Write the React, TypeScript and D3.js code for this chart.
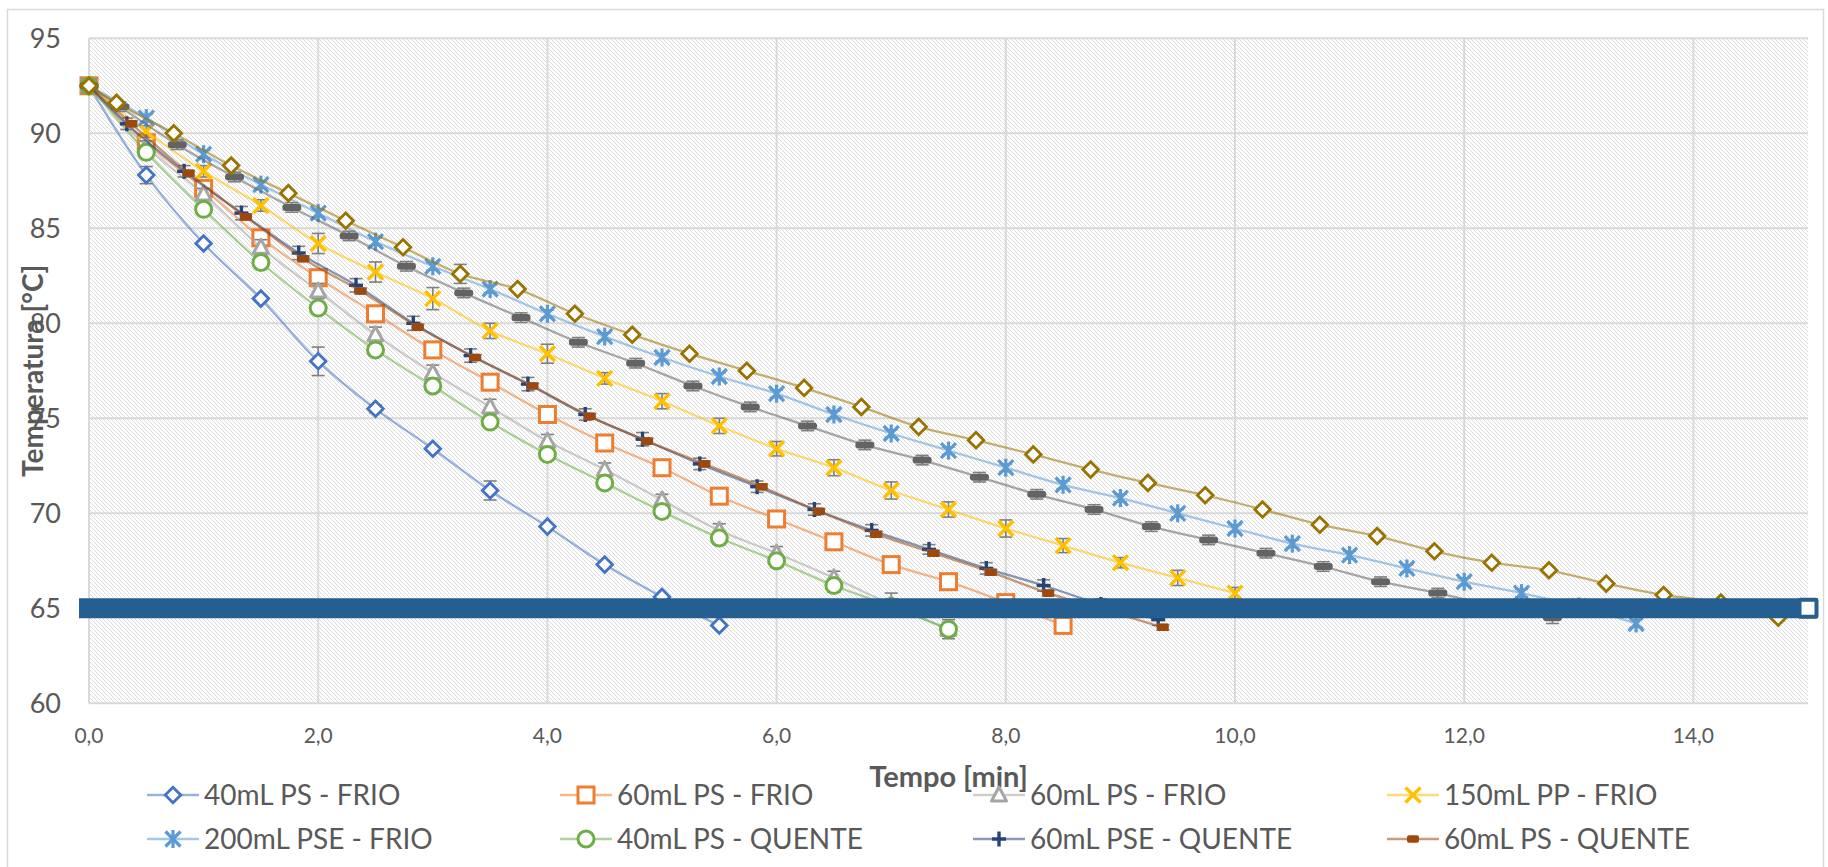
import React from 'react';
import * as d3 from 'd3';

const W = 1828;
const H = 867;

const X_TICKS = [0, 2, 4, 6, 8, 10, 12, 14];
const X_TICK_LABELS = ['0,0', '2,0', '4,0', '6,0', '8,0', '10,0', '12,0', '14,0'];
const Y_TICKS = [60, 65, 70, 75, 80, 85, 90, 95];
const Y_TICK_LABELS = ['60', '65', '70', '75', '80', '85', '90', '95'];

// Series 1: 40mL PS - FRIO
const T_40PS_FRIO = [0, 0.5, 1, 1.5, 2, 2.5, 3, 3.5, 4, 4.5, 5, 5.5];
const V_40PS_FRIO = [92.5, 87.8, 84.2, 81.3, 78.0, 75.5, 73.4, 71.2, 69.3, 67.3, 65.6, 64.1];
const E_40PS_FRIO = [0, 0.45, 0.1, 0.15, 0.75, 0.2, 0.1, 0.5, 0.1, 0.15, 0.1, 0.1];

// Series 2: 60mL PS - FRIO (orange)
const T_60PS_FRIO = [0, 0.5, 1, 1.5, 2, 2.5, 3, 3.5, 4, 4.5, 5, 5.5, 6, 6.5, 7, 7.5, 8, 8.5];
const V_60PS_FRIO = [92.5, 89.5, 87.1, 84.5, 82.4, 80.5, 78.6, 76.9, 75.2, 73.7, 72.4, 70.9, 69.7, 68.5, 67.3, 66.4, 65.3, 64.1];
const E_60PS_FRIO = [0, 0.2, 0.2, 0.15, 0.2, 0.15, 0.15, 0.15, 0.15, 0.15, 0.15, 0.15, 0.15, 0.2, 0.15, 0.15, 0.15, 0.15];

// Series 3: 60mL PS - FRIO (gray)
const T_60PS_FRIO_B = [0, 0.5, 1, 1.5, 2, 2.5, 3, 3.5, 4, 4.5, 5, 5.5, 6, 6.5, 7, 7.5];
const V_60PS_FRIO_B = [92.5, 89.3, 86.8, 84.0, 81.7, 79.4, 77.4, 75.6, 73.8, 72.3, 70.7, 69.1, 67.9, 66.6, 65.2, 63.9];
const E_60PS_FRIO_B = [0, 0.3, 0.3, 0.4, 0.4, 0.4, 0.4, 0.4, 0.35, 0.35, 0.3, 0.35, 0.35, 0.35, 0.6, 0.5];

// Series 4: 150mL PP - FRIO
const T_150PP_FRIO = [0, 0.5, 1, 1.5, 2, 2.5, 3, 3.5, 4, 4.5, 5, 5.5, 6, 6.5, 7, 7.5, 8, 8.5, 9, 9.5, 10];
const V_150PP_FRIO = [92.5, 90.1, 88.0, 86.2, 84.2, 82.7, 81.3, 79.6, 78.4, 77.1, 75.9, 74.6, 73.4, 72.4, 71.2, 70.2, 69.2, 68.3, 67.4, 66.6, 65.8];
const E_150PP_FRIO = [0, 0.3, 0.3, 0.3, 0.53, 0.53, 0.58, 0.4, 0.5, 0.3, 0.4, 0.4, 0.38, 0.42, 0.45, 0.4, 0.45, 0.37, 0.27, 0.4, 0.3];

// Series 5: 200mL PSE - FRIO
const T_200PSE_FRIO = [0, 0.5, 1, 1.5, 2, 2.5, 3, 3.5, 4, 4.5, 5, 5.5, 6, 6.5, 7, 7.5, 8, 8.5, 9, 9.5, 10, 10.5, 11, 11.5, 12, 12.5, 13, 13.5];
const V_200PSE_FRIO = [92.5, 90.8, 88.9, 87.3, 85.8, 84.3, 83.0, 81.8, 80.5, 79.3, 78.2, 77.2, 76.3, 75.2, 74.2, 73.3, 72.4, 71.5, 70.8, 70.0, 69.2, 68.4, 67.8, 67.1, 66.4, 65.8, 65.1, 64.2];
const E_200PSE_FRIO = [0, 0.2, 0.2, 0.2, 0.2, 0.2, 0.2, 0.2, 0.2, 0.2, 0.2, 0.2, 0.2, 0.2, 0.2, 0.2, 0.2, 0.2, 0.2, 0.2, 0.2, 0.2, 0.2, 0.2, 0.2, 0.2, 0.2, 0.2];

// Series 6: 40mL PS - QUENTE
const T_40PS_QUENTE = [0, 0.5, 1, 1.5, 2, 2.5, 3, 3.5, 4, 4.5, 5, 5.5, 6, 6.5, 7, 7.5];
const V_40PS_QUENTE = [92.5, 89.0, 86.0, 83.2, 80.8, 78.6, 76.7, 74.8, 73.1, 71.6, 70.1, 68.7, 67.5, 66.2, 65.1, 63.9];
const E_40PS_QUENTE = [0, 0.3, 0.2, 0.2, 0.2, 0.2, 0.3, 0.3, 0.25, 0.3, 0.35, 0.35, 0.35, 0.35, 0.4, 0.35];

// Series 7: 60mL PSE - QUENTE
const T_60PSE_QUENTE = [0, 0.33, 0.83, 1.33, 1.83, 2.33, 2.83, 3.33, 3.83, 4.33, 4.83, 5.33, 5.83, 6.33, 6.83, 7.33, 7.83, 8.33, 8.83, 9.33];
const V_60PSE_QUENTE = [92.5, 90.5, 88.0, 85.8, 83.7, 82.0, 80.0, 78.3, 76.8, 75.2, 73.9, 72.6, 71.4, 70.2, 69.1, 68.1, 67.1, 66.2, 65.2, 64.4];
const E_60PSE_QUENTE = [0, 0.3, 0.3, 0.35, 0.35, 0.35, 0.37, 0.35, 0.35, 0.3, 0.35, 0.3, 0.3, 0.3, 0.3, 0.25, 0.3, 0.3, 0.3, 0.3];

// Series 8: 60mL PS - QUENTE
const T_60PS_QUENTE = [0, 0.37, 0.87, 1.37, 1.87, 2.37, 2.87, 3.37, 3.87, 4.37, 4.87, 5.37, 5.87, 6.37, 6.87, 7.37, 7.87, 8.37, 8.87, 9.37];
const V_60PS_QUENTE = [92.5, 90.5, 87.9, 85.6, 83.4, 81.7, 79.8, 78.2, 76.7, 75.1, 73.8, 72.6, 71.4, 70.1, 68.9, 67.9, 66.9, 65.8, 64.9, 64.0];
const E_60PS_QUENTE = [0, 0.15, 0.15, 0.15, 0.15, 0.15, 0.15, 0.15, 0.15, 0.15, 0.15, 0.15, 0.15, 0.15, 0.15, 0.15, 0.15, 0.15, 0.15, 0.15];

// Series 9 (dark gray dash, not in legend)
const T_SERIE9 = [0, 0.27, 0.77, 1.27, 1.77, 2.27, 2.77, 3.27, 3.77, 4.27, 4.77, 5.27, 5.77, 6.27, 6.77, 7.27, 7.77, 8.27, 8.77, 9.27, 9.77, 10.27, 10.77, 11.27, 11.77, 12.27, 12.77];
const V_SERIE9 = [92.5, 91.4, 89.4, 87.7, 86.1, 84.6, 83.0, 81.6, 80.3, 79.0, 77.9, 76.7, 75.6, 74.6, 73.6, 72.8, 71.9, 71.0, 70.2, 69.3, 68.6, 67.9, 67.2, 66.4, 65.8, 65.1, 64.5];
const E_SERIE9 = [0, 0.25, 0.25, 0.25, 0.25, 0.25, 0.25, 0.25, 0.25, 0.25, 0.25, 0.25, 0.25, 0.25, 0.25, 0.25, 0.25, 0.25, 0.25, 0.25, 0.25, 0.25, 0.25, 0.25, 0.25, 0.25, 0.3];

// Series 10 (dark gold diamond, not in legend)
const T_SERIE10 = [0, 0.24, 0.74, 1.24, 1.74, 2.24, 2.74, 3.24, 3.74, 4.24, 4.74, 5.24, 5.74, 6.24, 6.74, 7.24, 7.74, 8.24, 8.74, 9.24, 9.74, 10.24, 10.74, 11.24, 11.74, 12.24, 12.74, 13.24, 13.74, 14.24, 14.74];
const V_SERIE10 = [92.5, 91.6, 90.0, 88.3, 86.85, 85.4, 84.0, 82.6, 81.8, 80.5, 79.4, 78.4, 77.5, 76.6, 75.6, 74.55, 73.85, 73.1, 72.3, 71.6, 70.95, 70.2, 69.4, 68.8, 68.0, 67.4, 67.0, 66.3, 65.7, 65.3, 64.5];
const E_SERIE10 = [0, 0.15, 0.15, 0.15, 0.15, 0.15, 0.15, 0.5, 0.15, 0.15, 0.15, 0.15, 0.15, 0.15, 0.15, 0.15, 0.15, 0.15, 0.15, 0.15, 0.15, 0.15, 0.15, 0.15, 0.15, 0.15, 0.15, 0.15, 0.15, 0.15, 0.15];

// Reference line at 65 °C
const T_REF = [0, 15];
const V_REF = [65, 65];

const SERIES = [
  { name: '40mL PS - FRIO', t: T_40PS_FRIO, v: V_40PS_FRIO, e: E_40PS_FRIO, color: '#4472C4', marker: 'diamond', legend: true },
  { name: '60mL PS - FRIO', t: T_60PS_FRIO, v: V_60PS_FRIO, e: E_60PS_FRIO, color: '#ED7D31', marker: 'square', legend: true },
  { name: '60mL PS - FRIO', t: T_60PS_FRIO_B, v: V_60PS_FRIO_B, e: E_60PS_FRIO_B, color: '#A5A5A5', marker: 'triangle', legend: true },
  { name: '150mL PP - FRIO', t: T_150PP_FRIO, v: V_150PP_FRIO, e: E_150PP_FRIO, color: '#FFC000', marker: 'x', legend: true },
  { name: '200mL PSE - FRIO', t: T_200PSE_FRIO, v: V_200PSE_FRIO, e: E_200PSE_FRIO, color: '#5B9BD5', marker: 'star', legend: true },
  { name: '40mL PS - QUENTE', t: T_40PS_QUENTE, v: V_40PS_QUENTE, e: E_40PS_QUENTE, color: '#70AD47', marker: 'circle', legend: true },
  { name: '60mL PSE - QUENTE', t: T_60PSE_QUENTE, v: V_60PSE_QUENTE, e: E_60PSE_QUENTE, color: '#264478', marker: 'plus', legend: true },
  { name: '60mL PS - QUENTE', t: T_60PS_QUENTE, v: V_60PS_QUENTE, e: E_60PS_QUENTE, color: '#9E480E', marker: 'dash', legend: true },
  { name: 'Série 9', t: T_SERIE9, v: V_SERIE9, e: E_SERIE9, color: '#636363', marker: 'longdash', legend: false },
  { name: 'Série 10', t: T_SERIE10, v: V_SERIE10, e: E_SERIE10, color: '#997300', marker: 'diamond', legend: false },
];

const PLOT = { left: 89, right: 1808, top: 38.3, bottom: 703.3 };
const TEXT = '#595959';
const FONT = 'Lato, "Open Sans", sans-serif';

function Marker({ type, cx, cy, color }: { type: string; cx: number; cy: number; color: string }) {
  switch (type) {
    case 'diamond':
      return <path d={`M${cx},${cy - 7.8}L${cx + 7.8},${cy}L${cx},${cy + 7.8}L${cx - 7.8},${cy}Z`} fill="#fff" stroke={color} strokeWidth={2.8} />;
    case 'square':
      return <rect x={cx - 8} y={cy - 8} width={16} height={16} fill="#fff" stroke={color} strokeWidth={3} />;
    case 'triangle':
      return <path d={`M${cx},${cy - 8}L${cx + 7.5},${cy + 6}L${cx - 7.5},${cy + 6}Z`} fill="#fff" stroke={color} strokeWidth={3} strokeLinejoin="round" />;
    case 'circle':
      return <circle cx={cx} cy={cy} r={8} fill="#fff" stroke={color} strokeWidth={3} />;
    case 'x':
      return (
        <g stroke={color} strokeWidth={3.4}>
          <line x1={cx - 7.5} y1={cy - 7.5} x2={cx + 7.5} y2={cy + 7.5} />
          <line x1={cx - 7.5} y1={cy + 7.5} x2={cx + 7.5} y2={cy - 7.5} />
        </g>
      );
    case 'star':
      return (
        <g stroke={color} strokeWidth={3.2}>
          <line x1={cx - 7.5} y1={cy - 7.5} x2={cx + 7.5} y2={cy + 7.5} />
          <line x1={cx - 7.5} y1={cy + 7.5} x2={cx + 7.5} y2={cy - 7.5} />
          <line x1={cx} y1={cy - 9} x2={cx} y2={cy + 9} />
        </g>
      );
    case 'plus':
      return (
        <g stroke={color} strokeWidth={3.4}>
          <line x1={cx - 7} y1={cy} x2={cx + 7} y2={cy} />
          <line x1={cx} y1={cy - 7.5} x2={cx} y2={cy + 7.5} />
        </g>
      );
    case 'dash':
      return <rect x={cx - 6} y={cy - 3.8} width={12} height={7.6} rx={2} fill={color} />;
    case 'longdash':
      return <rect x={cx - 9.5} y={cy - 3.5} width={19} height={7} rx={3.2} fill={color} />;
    default:
      return null;
  }
}

export default function App() {
  const x = d3.scaleLinear().domain([0, 15]).range([PLOT.left, PLOT.right]);
  const y = d3.scaleLinear().domain([60, 95]).range([PLOT.bottom, PLOT.top]);
  const line = d3
    .line<[number, number]>()
    .x((d) => x(d[0]))
    .y((d) => y(d[1]))
    .curve(d3.curveCatmullRom.alpha(0.5));

  const legendItems = SERIES.filter((s) => s.legend);
  const colStarts = [147, 560, 973, 1387];
  const rowBaselines = [805, 849];

  const refY = y(V_REF[0]);

  return (
    <svg width={W} height={H} style={{ position: 'fixed', left: 0, top: 0, background: '#fff' }} fontFamily={FONT}>
      <defs>
        <pattern id="hatch" width={4} height={4} patternUnits="userSpaceOnUse">
          <rect width={4} height={4} fill="#ffffff" />
          <path d="M-1,-1L5,5M-1,3L1,5M3,-1L5,1" stroke="#d6d6d6" strokeWidth={0.85} />
        </pattern>
      </defs>
      <rect x={7.5} y={9.5} width={1816} height={860} fill="#fff" stroke="#d9d9d9" strokeWidth={1.5} />

      {/* plot area */}
      <rect x={PLOT.left} y={PLOT.top} width={PLOT.right - PLOT.left} height={PLOT.bottom - PLOT.top} fill="url(#hatch)" />

      {/* gridlines */}
      {Y_TICKS.map((t) => (
        <line key={'gy' + t} x1={PLOT.left} x2={PLOT.right} y1={y(t)} y2={y(t)} stroke="#d9d9d9" strokeWidth={2} />
      ))}
      {X_TICKS.map((t) => (
        <line key={'gx' + t} x1={x(t)} x2={x(t)} y1={PLOT.top} y2={PLOT.bottom} stroke="#d9d9d9" strokeWidth={2} />
      ))}

      {/* tick labels */}
      {Y_TICKS.map((t, i) => (
        <text key={'ty' + t} x={61} y={y(t) + 10} textAnchor="end" fontSize={27} fill={TEXT}>
          {Y_TICK_LABELS[i]}
        </text>
      ))}
      {X_TICKS.map((t, i) => (
        <text key={'tx' + t} x={x(t)} y={743} textAnchor="middle" fontSize={21} fill={TEXT}>
          {X_TICK_LABELS[i]}
        </text>
      ))}

      {/* series */}
      {SERIES.map((s, si) => {
        const pts: [number, number][] = s.t.map((t, i) => [t, s.v[i]]);
        return (
          <g key={'s' + si}>
            <path d={line(pts) || ''} fill="none" stroke={s.color} strokeOpacity={0.55} strokeWidth={2.3} />
            {pts.map((p, i) =>
              s.e[i] > 0 ? (
                <g key={'e' + i} stroke="#7f7f7f" strokeWidth={1.6}>
                  <line x1={x(p[0])} x2={x(p[0])} y1={y(p[1] - s.e[i])} y2={y(p[1] + s.e[i])} />
                  <line x1={x(p[0]) - 6.5} x2={x(p[0]) + 6.5} y1={y(p[1] - s.e[i])} y2={y(p[1] - s.e[i])} />
                  <line x1={x(p[0]) - 6.5} x2={x(p[0]) + 6.5} y1={y(p[1] + s.e[i])} y2={y(p[1] + s.e[i])} />
                </g>
              ) : null
            )}
            {pts.map((p, i) => (
              <Marker key={'m' + i} type={s.marker} cx={x(p[0])} cy={y(p[1])} color={s.color} />
            ))}
          </g>
        );
      })}

      {/* 65 °C reference line */}
      <line x1={x(T_REF[0])} x2={x(T_REF[1])} y1={refY} y2={refY} stroke="#255E91" strokeWidth={20} strokeLinecap="square" />
      <rect x={x(T_REF[1]) - 8.5} y={refY - 8.5} width={17} height={17} fill="#fff" stroke="#255E91" strokeWidth={4} rx={1} />

      {/* axis titles */}
      <text x={(PLOT.left + PLOT.right) / 2} y={787} textAnchor="middle" fontSize={29} fontWeight="bold" fill={TEXT}>
        Tempo [min]
      </text>
      <text transform={`translate(43,${(PLOT.top + PLOT.bottom) / 2}) rotate(-90)`} textAnchor="middle" fontSize={28} fontWeight="bold" fill={TEXT}>
        Temperatura [°C]
      </text>

      {/* legend */}
      {legendItems.map((s, i) => {
        const col = i % 4;
        const row = Math.floor(i / 4);
        const x0 = colStarts[col];
        const by = rowBaselines[row];
        const cy = by - 10;
        return (
          <g key={'lg' + i}>
            <line x1={x0} x2={x0 + 52} y1={cy} y2={cy} stroke={s.color} strokeOpacity={0.55} strokeWidth={2.3} />
            <Marker type={s.marker} cx={x0 + 26} cy={cy} color={s.color} />
            <text x={x0 + 57} y={by} fontSize={28} fill={TEXT}>
              {s.name}
            </text>
          </g>
        );
      })}
    </svg>
  );
}
